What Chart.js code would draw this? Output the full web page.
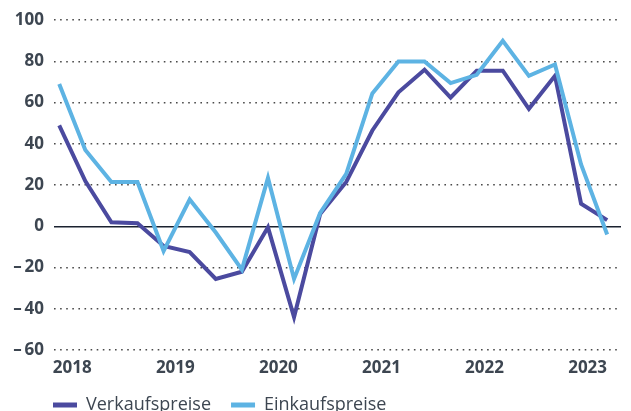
<!DOCTYPE html>
<html>
<head>
<meta charset="utf-8">
<script src="https://cdn.jsdelivr.net/npm/chart.js@4"></script>
<style>
  html, body { margin: 0; padding: 0; background: #fff; overflow: hidden; }
  #wrap { width: 631px; height: 434px; position: relative; }
</style>
</head>
<body>
<div id="wrap"><canvas id="myChart"></canvas></div>
<script>
// quarterly values, 2018 Q1 .. 2023 Q2
const quarters = ['2018Q1','2018Q2','2018Q3','2018Q4','2019Q1','2019Q2','2019Q3','2019Q4',
  '2020Q1','2020Q2','2020Q3','2020Q4','2021Q1','2021Q2','2021Q3','2021Q4',
  '2022Q1','2022Q2','2022Q3','2022Q4','2023Q1','2023Q2'];
const verkaufspreise = [49, 22, 2, 1.5, -9.5, -12.5, -25.5, -22, -0.5, -44, 6, 21.5,
  46.5, 65, 76, 62.5, 75.5, 75.5, 57, 73, 11, 3];
const einkaufspreise = [69, 37, 21.5, 21.5, -12, 13, -3, -21, 23.5, -25.5, 6.5, 25.5,
  64.5, 80, 80, 69.5, 73.5, 90, 73, 78.5, 30, -4];
const yearLabels = ['2018','2019','2020','2021','2022','2023'];

const textColor = '#3d4651';
const darkBlue = '#4b4a9f';
const lightBlue = '#5db3e3';

const toPoints = arr => arr.map((v, i) => ({x: i, y: v}));
const yearTickPos = yearLabels.map((y, i) => 0.5 + i * 3.95);

// shift legend so it starts under the plot area, like the original
const legendShift = {
  id: 'legendShift',
  afterLayout(chart) {
    chart.legend.left += 33;
  }
};

var ctx = document.getElementById('myChart').getContext('2d');
var myChart = new Chart(ctx, {
  type: 'line',
  data: {
    datasets: [{
      label: 'Verkaufspreise',
      data: toPoints(verkaufspreise),
      borderColor: darkBlue,
      backgroundColor: darkBlue,
      borderWidth: 4,
      pointRadius: 0,
      tension: 0,
      order: 1
    }, {
      label: 'Einkaufspreise',
      data: toPoints(einkaufspreise),
      borderColor: lightBlue,
      backgroundColor: lightBlue,
      borderWidth: 4,
      pointRadius: 0,
      tension: 0,
      order: 0
    }]
  },
  plugins: [legendShift],
  options: {
    responsive: true,
    maintainAspectRatio: false,
    devicePixelRatio: 1,
    animation: false,
    layout: { padding: { top: 19, left: 0, right: 10, bottom: 10 } },
    plugins: {
      tooltip: { enabled: false },
      legend: {
        position: 'bottom',
        align: 'start',
        labels: {
          boxWidth: 24,
          boxHeight: 5,
          padding: 20,
          color: textColor,
          font: { family: "'Open Sans'", size: 18, weight: 'normal' },
          sort: (a, b) => a.datasetIndex - b.datasetIndex,
          generateLabels: chart => Chart.defaults.plugins.legend.labels.generateLabels(chart)
            .map(l => Object.assign(l, { lineWidth: 0, fillStyle: l.strokeStyle }))
        }
      }
    },
    scales: {
      x: {
        type: 'linear',
        min: -0.2,
        max: 21.53,
        grid: { display: false, drawTicks: false },
        border: { display: false },
        afterBuildTicks: scale => { scale.ticks = yearTickPos.map(v => ({ value: v })); },
        afterFit: scale => { scale.height = 26; },
        ticks: {
          padding: 8,
          maxRotation: 0,
          autoSkip: false,
          color: textColor,
          font: { family: "'Open Sans'", size: 17, weight: 'bold' },
          callback: (v, i) => yearLabels[i]
        }
      },
      y: {
        min: -60,
        max: 100,
        afterFit: scale => { scale.width = 54; },
        grid: {
          drawTicks: false,
          color: c => c.tick && c.tick.value === 0 ? '#1b2230' : '#4a4a4a',
          lineWidth: c => c.tick && c.tick.value === 0 ? 1.5 : 1.6
        },
        border: {
          display: false,
          dash: c => c.tick && c.tick.value === 0 ? [] : [1.6, 4.5]
        },
        ticks: {
          stepSize: 20,
          padding: 10,
          color: textColor,
          font: { family: "'Open Sans'", size: 17, weight: 'bold' },
          callback: v => v < 0 ? '\u2013\u2009' + Math.abs(v) : v
        }
      }
    }
  }
});
</script>
</body>
</html>
